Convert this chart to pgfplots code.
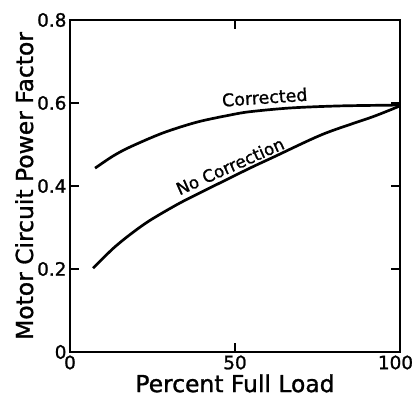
\documentclass[border=0pt]{standalone}
\usepackage{fontspec}
\setmainfont{DejaVu Sans}
\newfontfamily\heavy{DejaVu Sans}[FakeBold=1.2]
\usepackage{pgfplots}
\pgfplotsset{compat=1.18}
\begin{document}
\begin{tikzpicture}
\begin{axis}[
  scale only axis, width=330bp, height=332bp,
  xmin=0, xmax=100, ymin=0, ymax=0.8,
  xtick={0,50,100}, ytick={0,0.2,0.4,0.6,0.8},
  xticklabels={0,50,{100\hspace*{9bp}}},
  yticklabels={0,0.2,0.4,0.6,0.8},
  tick align=inside, major tick length=9bp,
  axis line style={line width=1.6pt},
  tick style={line width=1.4pt, black},
  ticklabel style={font=\heavy\fontsize{18.5}{18}\selectfont},
  /pgf/number format/assume math mode=true,
  xlabel={Percent Full Load},
  ylabel={Motor Circuit Power Factor},
  label style={font=\heavy\fontsize{23.5}{24}\selectfont},
  xlabel style={yshift=2bp},
  ylabel style={yshift=-3bp},
  clip=false,
]
\coordinate (O) at (rel axis cs:0,0);
\addplot[black, line width=2.7pt, smooth, tension=0.5] coordinates {
  (7.6,0.443) (13.0,0.472) (18.2,0.494) (28.2,0.528) (38.5,0.554) (48.5,0.571) (54.5,0.579) (66.7,0.588) (81.8,0.593) (100,0.595)
};
\addplot[black, line width=2.7pt, smooth, tension=0.5] coordinates {
  (7.0,0.202) (13.0,0.249) (18.2,0.283) (24.2,0.317) (33.3,0.359) (43.3,0.399) (54.5,0.443) (61.5,0.469) (76.7,0.525) (91.8,0.567) (100,0.593)
};
\node[rotate=4, font=\heavy\fontsize{17.5}{18}\selectfont] at (axis cs:59,0.614) {Corrected};
\node[rotate=24, font=\heavy\fontsize{17}{18}\selectfont] at (axis cs:48.5,0.448) {No Correction};
\end{axis}
\pgfresetboundingbox
\path (O) ++(-70bp,-58bp) rectangle ++(412bp,410bp);
\end{tikzpicture}
\end{document}
